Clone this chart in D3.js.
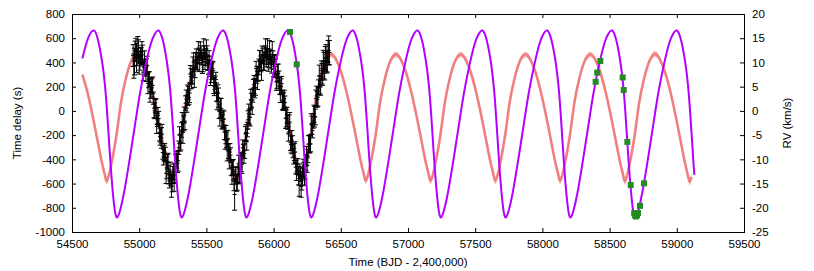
<!DOCTYPE html>
<html>
<head>
<meta charset="utf-8">
<script src="https://cdn.jsdelivr.net/npm/d3@7.9.0/dist/d3.min.js"></script>
<style>
  body { margin: 0; background: #fff; }
  svg { display: block; font-family: "Liberation Sans", Arial, sans-serif; }
</style>
</head>
<body>
<svg id="chart"></svg>
<script>
const width = 814;
const height = 271;
const margin = { top: 14, right: 70, bottom: 39, left: 72 };

// axis ticks
const xTicks = [54500, 55000, 55500, 56000, 56500, 57000, 57500, 58000, 58500, 59000, 59500];
const delayTicks = [-1000, -800, -600, -400, -200, 0, 200, 400, 600, 800];
const rvTicks = [-25, -20, -15, -10, -5, 0, 5, 10, 15, 20];

// measured time delays (black, with error bars), first set of segments
const tdTimes = [
  54955, 54965, 54975, 54985, 54995, 55005, 55015, 55025, 55035, 55045,
  55055, 55065, 55075, 55085, 55095, 55105, 55115, 55125, 55135, 55145,
  55155, 55165, 55175, 55185, 55195, 55205, 55215, 55225, 55235, 55245,
  55255, 55265, 55275, 55285, 55295, 55305, 55315, 55325, 55335, 55345,
  55355, 55365, 55375, 55385, 55395, 55405, 55415, 55425, 55435, 55445,
  55455, 55465, 55475, 55485, 55495, 55505, 55515, 55525, 55535, 55545,
  55555, 55565, 55575, 55585, 55595, 55605, 55615, 55625, 55635, 55645,
  55655, 55665, 55675, 55685, 55695, 55705, 55715, 55725, 55735, 55745,
  55755, 55765, 55775, 55785, 55795, 55805, 55815, 55825, 55835, 55845,
  55855, 55865, 55875, 55885, 55895, 55905, 55915, 55925, 55935, 55945,
  55955, 55965, 55975, 55985, 55995, 56005, 56015, 56025, 56035, 56045,
  56055, 56065, 56075, 56085, 56095, 56105, 56115, 56125, 56135, 56145,
  56155, 56165, 56175, 56185, 56195, 56205, 56215, 56225, 56235, 56245,
  56255, 56265, 56275, 56285, 56295, 56305, 56315, 56325, 56335, 56345,
  56355, 56365, 56375, 56385, 56395, 56405, 56415
];
const tdValues = [
  457, 407, 515, 446, 492, 396, 446, 463, 361, 356,
  375, 227, 264, 174, 190, 105, 1, 21, -74, -64,
  -213, -223, -344, -349, -360, -470, -425, -576, -559, -598,
  -504, -513, -396, -434, -304, -263, -158, -178, -33, 64,
  59, 148, 148, 284, 287, 403, 345, 427, 389, 454,
  499, 440, 403, 482, 440, 462, 362, 382, 318, 350,
  208, 233, 155, 145, -3, 22, -78, -63, -176, -196,
  -323, -333, -340, -470, -467, -579, -525, -594, -525, -517,
  -403, -441, -334, -324, -179, -154, -24, -55, 85, 127,
  217, 194, 298, 305, 415, 388, 465, 390, 477, 438,
  515, 424, 450, 382, 441, 366, 364, 246, 311, 207,
  205, 90, 83, 68, -62, -92, -108, -263, -242, -327,
  -340, -465, -458, -536, -498, -623, -547, -490, -504, -373,
  -372, -273, -273, -118, -83, -48, 102, 96, 196, 215,
  333, 281, 374, 436, 397, 492, 481
];
const tdErrors = [
  90, 110, 85, 70, 95, 60, 75, 80, 65, 70,
  55, 85, 60, 70, 75, 50, 65, 80, 55, 60,
  70, 85, 55, 65, 60, 90, 75, 60, 55, 70,
  65, 80, 60, 75, 55, 70, 60, 90, 65, 60,
  70, 55, 80, 65, 60, 75, 70, 85, 60, 65,
  70, 60, 80, 55, 65, 75, 60, 70, 85, 60,
  65, 55, 75, 70, 60, 80, 65, 70, 60, 75,
  90, 60, 70, 65, 55, 80, 60, 70, 65, 85,
  60, 75, 55, 70, 65, 60, 80, 70, 60, 55,
  75, 65, 70, 60, 85, 65, 70, 55, 60, 75,
  80, 65, 60, 70, 55, 90, 65, 60, 75, 70,
  60, 80, 65, 55, 70, 60, 75, 65, 80, 60,
  70, 55, 65, 75, 60, 90, 70, 65, 60, 80,
  55, 70, 65, 75, 60, 85, 70, 65, 60, 75,
  80, 70, 110, 95, 85, 90, 100
];

// second set of segments, in between the first
const tdTimesB = [
  54960, 54970, 54980, 54990, 55000, 55010, 55020, 55030, 55040, 55050,
  55060, 55070, 55080, 55090, 55100, 55110, 55120, 55130, 55140, 55150,
  55160, 55170, 55180, 55190, 55200, 55210, 55220, 55230, 55240, 55250,
  55260, 55270, 55280, 55290, 55300, 55310, 55320, 55330, 55340, 55350,
  55360, 55370, 55380, 55390, 55400, 55410, 55420, 55430, 55440, 55450,
  55460, 55470, 55480, 55490, 55500, 55510, 55520, 55530, 55540, 55550,
  55560, 55570, 55580, 55590, 55600, 55610, 55620, 55630, 55640, 55650,
  55660, 55670, 55680, 55690, 55700, 55710, 55720, 55730, 55740, 55750,
  55760, 55770, 55780, 55790, 55800, 55810, 55820, 55830, 55840, 55850,
  55860, 55870, 55880, 55890, 55900, 55910, 55920, 55930, 55940, 55950,
  55960, 55970, 55980, 55990, 56000, 56010, 56020, 56030, 56040, 56050,
  56060, 56070, 56080, 56090, 56100, 56110, 56120, 56130, 56140, 56150,
  56160, 56170, 56180, 56190, 56200, 56210, 56220, 56230, 56240, 56250,
  56260, 56270, 56280, 56290, 56300, 56310, 56320, 56330, 56340, 56350,
  56360, 56370, 56380, 56390, 56400, 56410
];
const tdValuesB = [
  370, 496, 438, 539, 399, 459, 487, 320, 406, 303,
  376, 256, 157, 215, 210, 23, 39, -112, -37, -179,
  -198, -191, -382, -340, -515, -420, -528, -488, -623, -529,
  -599, -432, -413, -412, -201, -258, -93, -103, -85, 97,
  129, 111, 304, 248, 370, 274, 421, 413, 507, 399,
  477, 384, 510, 406, 516, 395, 417, 285, 324, 334,
  201, 259, 80, 109, -60, 19, -91, -72, -241, -240,
  -231, -399, -365, -531, -486, -690, -535, -590, -446, -538,
  -425, -305, -352, -189, -254, -74, -50, 93, 31, 190,
  188, 349, 252, 363, 427, 337, 458, 411, 525, 449,
  397, 500, 406, 497, 346, 380, 240, 326, 249, 134,
  225, 79, 101, -60, -35, -190, -93, -278, -280, -374,
  -340, -504, -460, -615, -521, -578, -469, -532, -426, -448,
  -275, -273, -108, -163, -23, -50, 124, 114, 288, 199,
  307, 405, 335, 437, 410, 499
];
const tdErrorsB = [
  100, 80, 120, 75, 95, 65, 85, 70, 90, 60,
  75, 65, 85, 60, 70, 80, 55, 75, 65, 70,
  60, 80, 65, 70, 85, 60, 75, 65, 90, 70,
  65, 75, 60, 85, 70, 65, 80, 60, 70, 75,
  85, 60, 70, 65, 75, 80, 60, 70, 65, 75,
  60, 75, 85, 65, 70, 60, 80, 75, 65, 70,
  75, 60, 70, 80, 65, 85, 60, 70, 75, 65,
  70, 80, 60, 75, 85, 130, 70, 65, 80, 60,
  75, 65, 80, 60, 70, 75, 65, 85, 60, 70,
  80, 60, 75, 65, 70, 85, 60, 75, 70, 65,
  70, 80, 60, 75, 65, 85, 70, 60, 80, 65,
  60, 75, 70, 85, 65, 60, 80, 70, 75, 65,
  85, 70, 65, 90, 60, 75, 70, 80, 65, 60,
  70, 75, 85, 60, 70, 65, 80, 75, 90, 70,
  85, 95, 80, 110, 90, 120
];

// time-delay model (salmon band)
const tdModelTimes = [
  54577, 54616, 54656, 54696, 54726, 54746,
  54758, 54778, 54803, 54833, 54863, 54898, 54938, 54980, 55018, 55058, 55098, 55138, 55178, 55208, 55228,
  55240, 55260, 55285, 55315, 55345, 55380, 55420, 55462, 55500, 55540, 55580, 55620, 55660, 55690, 55710,
  55722, 55742, 55767, 55797, 55827, 55862, 55902, 55944, 55982, 56022, 56062, 56102, 56142, 56172, 56192,
  56204, 56224, 56249, 56279, 56309, 56344, 56384, 56426, 56464, 56504, 56544, 56584, 56624, 56654, 56674,
  56686, 56706, 56731, 56761, 56791, 56826, 56866, 56908, 56946, 56986, 57026, 57066, 57106, 57136, 57156,
  57168, 57188, 57213, 57243, 57273, 57308, 57348, 57390, 57428, 57468, 57508, 57548, 57588, 57618, 57638,
  57650, 57670, 57695, 57725, 57755, 57790, 57830, 57872, 57910, 57950, 57990, 58030, 58070, 58100, 58120,
  58132, 58152, 58177, 58207, 58237, 58272, 58312, 58354, 58392, 58432, 58472, 58512, 58552, 58582, 58602,
  58614, 58634, 58659, 58689, 58719, 58754, 58794, 58836, 58874, 58914, 58954, 58994, 59034, 59064, 59084,
  59096, 59110
];
const tdModelValues = [
  300, 150, -55, -280, -445, -535,
  -580, -515, -380, -185, 60, 255, 405, 465, 425, 315, 150, -55, -280, -445, -535,
  -575, -515, -380, -185, 60, 255, 405, 465, 425, 315, 150, -55, -280, -445, -535,
  -575, -515, -380, -185, 60, 255, 405, 465, 425, 315, 150, -55, -280, -445, -535,
  -575, -515, -380, -185, 60, 255, 405, 465, 425, 315, 150, -55, -280, -445, -535,
  -575, -515, -380, -185, 60, 255, 405, 465, 425, 315, 150, -55, -280, -445, -535,
  -575, -515, -380, -185, 60, 255, 405, 465, 425, 315, 150, -55, -280, -445, -535,
  -575, -515, -380, -185, 60, 255, 405, 465, 425, 315, 150, -55, -280, -445, -535,
  -575, -515, -380, -185, 60, 255, 405, 465, 425, 315, 150, -55, -280, -445, -535,
  -580, -515, -380, -185, 60, 255, 405, 470, 425, 315, 150, -55, -280, -445, -540,
  -585, -545
];

// RV model (violet line)
const rvModelTimes = [
  54577, 54620,
  54662, 54692, 54722, 54752, 54782, 54807, 54830, 54857, 54887, 54927, 54967, 55007, 55047, 55087, 55117,
  55144, 55174, 55204, 55234, 55264, 55289, 55312, 55339, 55369, 55409, 55449, 55489, 55529, 55569, 55599,
  55626, 55656, 55686, 55716, 55746, 55771, 55794, 55821, 55851, 55891, 55931, 55971, 56011, 56051, 56081,
  56108, 56138, 56168, 56198, 56228, 56253, 56276, 56303, 56333, 56373, 56413, 56453, 56493, 56533, 56563,
  56590, 56620, 56650, 56680, 56710, 56735, 56758, 56785, 56815, 56855, 56895, 56935, 56975, 57015, 57045,
  57072, 57102, 57132, 57162, 57192, 57217, 57240, 57267, 57297, 57337, 57377, 57417, 57457, 57497, 57527,
  57554, 57584, 57614, 57644, 57674, 57699, 57722, 57749, 57779, 57819, 57859, 57899, 57939, 57979, 58009,
  58036, 58066, 58096, 58126, 58156, 58181, 58204, 58231, 58261, 58301, 58341, 58381, 58421, 58461, 58491,
  58518, 58548, 58578, 58608, 58638, 58663, 58686, 58713, 58743, 58783, 58823, 58863, 58903, 58943, 58973,
  59000, 59030, 59060, 59090, 59120, 59131
];
const rvModelValues = [
  10.8, 15.0,
  16.6, 14.8, 10.5, 3.2, -9.0, -17.8, -21.9, -20.6, -16.9, -10.3, -3.2, 3.8, 9.4, 13.9, 15.9,
  16.6, 14.8, 10.5, 3.2, -9.0, -17.8, -21.9, -20.6, -16.9, -10.3, -3.2, 3.8, 9.4, 13.9, 15.9,
  16.6, 14.8, 10.5, 3.2, -9.0, -17.8, -21.9, -20.6, -16.9, -10.3, -3.2, 3.8, 9.4, 13.9, 15.9,
  16.6, 14.8, 10.5, 3.2, -9.0, -17.8, -21.9, -20.6, -16.9, -10.3, -3.2, 3.8, 9.4, 13.9, 15.9,
  16.6, 14.8, 10.5, 3.2, -9.0, -17.8, -21.9, -20.6, -16.9, -10.3, -3.2, 3.8, 9.4, 13.9, 15.9,
  16.6, 14.8, 10.5, 3.2, -9.0, -17.8, -21.9, -20.6, -16.9, -10.3, -3.2, 3.8, 9.4, 13.9, 15.9,
  16.6, 14.8, 10.5, 3.2, -9.0, -17.8, -21.9, -20.6, -16.9, -10.3, -3.2, 3.8, 9.4, 13.9, 15.9,
  16.6, 14.8, 10.5, 3.2, -9.0, -17.8, -21.9, -20.6, -16.9, -10.3, -3.2, 3.8, 9.4, 13.9, 15.9,
  16.6, 14.8, 10.5, 3.2, -9.0, -17.8, -21.9, -20.6, -16.9, -10.3, -3.2, 3.8, 9.4, 13.9, 15.9,
  16.6, 14.8, 10.5, 3.2, -9.0, -13.2
];

// measured RVs (green squares)
const rvTimes = [56122, 56172, 58396, 58408, 58431, 58597, 58605, 58632, 58657,
  58683, 58690, 58697, 58704, 58711, 58726, 58756];
const rvValues = [16.3, 9.6, 6.0, 7.9, 10.3, 6.9, 4.3, -6.4, -15.3,
  -21.1, -21.6, -21.8, -21.5, -21.1, -19.6, -14.95];

const svg = d3.select("#chart")
  .attr("width", width)
  .attr("height", height);

svg.append("rect").attr("width", width).attr("height", height).attr("fill", "#fff");

const x = d3.scaleLinear()
  .domain([54500, 59500])
  .range([margin.left, width - margin.right]);
const yDelay = d3.scaleLinear()
  .domain([-1000, 800])
  .range([height - margin.bottom, margin.top]);
const yRV = d3.scaleLinear()
  .domain([-25, 20])
  .range([height - margin.bottom, margin.top]);

const x0 = margin.left, x1 = width - margin.right;
const y0 = margin.top, y1 = height - margin.bottom;
const fmt = d => String(d);

// salmon model band
const tdModel = tdModelTimes.map((t, i) => ({ t, v: tdModelValues[i] }));
const bandFrac = 0.05;
svg.append("path")
  .datum(tdModel)
  .attr("fill", "#f08080")
  .attr("fill-opacity", 0.6)
  .attr("d", d3.area()
    .curve(d3.curveNatural)
    .x(d => x(d.t))
    .y0(d => yDelay(d.v - bandFrac * Math.abs(d.v)))
    .y1(d => yDelay(d.v + bandFrac * Math.abs(d.v))));
svg.append("path")
  .datum(tdModel)
  .attr("fill", "none")
  .attr("stroke", "#f08080")
  .attr("stroke-width", 2.6)
  .attr("d", d3.line().curve(d3.curveNatural).x(d => x(d.t)).y(d => yDelay(d.v)));

// time delay measurements
const td = tdTimes.map((t, i) => ({ t, v: tdValues[i], e: tdErrors[i] }))
  .concat(tdTimesB.map((t, i) => ({ t, v: tdValuesB[i], e: tdErrorsB[i] })));
svg.append("g")
  .attr("stroke", "#000")
  .attr("stroke-width", 1)
  .attr("fill", "none")
  .selectAll("path")
  .data(td)
  .join("path")
  .attr("d", d => {
    const px = x(d.t), lo = yDelay(d.v - d.e), hi = yDelay(d.v + d.e), py = yDelay(d.v);
    return `M${px - 2.5},${hi}H${px + 2.5}M${px},${hi}V${lo}M${px - 2.5},${lo}H${px + 2.5}M${px - 2},${py}H${px + 2}`;
  });

// RV model line
const rvModel = rvModelTimes.map((t, i) => ({ t, v: rvModelValues[i] }));
svg.append("path")
  .datum(rvModel)
  .attr("fill", "none")
  .attr("stroke", "#b400ff")
  .attr("stroke-width", 2)
  .attr("d", d3.line().curve(d3.curveNatural).x(d => x(d.t)).y(d => yRV(d.v)));

// RV measurements
svg.append("g")
  .selectAll("rect")
  .data(rvTimes.map((t, i) => ({ t, v: rvValues[i] })))
  .join("rect")
  .attr("x", d => x(d.t) - 3)
  .attr("y", d => yRV(d.v) - 3)
  .attr("width", 6)
  .attr("height", 6)
  .attr("fill", "#228b22");

// axes
function styleAxis(g) {
  g.select(".domain").remove();
  g.selectAll("text").attr("fill", "#000");
  g.selectAll(".tick line").attr("stroke", "#000");
  g.attr("font-size", 11.5).attr("font-family", '"Liberation Sans", Arial, sans-serif');
}

svg.append("g")
  .attr("transform", `translate(0,${y1})`)
  .call(d3.axisBottom(x).tickValues(xTicks).tickFormat(fmt).tickSize(-4).tickPadding(8))
  .call(styleAxis);
svg.append("g")
  .attr("transform", `translate(0,${y0})`)
  .call(d3.axisTop(x).tickValues(xTicks).tickFormat("").tickSize(-4))
  .call(styleAxis);
svg.append("g")
  .attr("transform", `translate(${x0},0)`)
  .call(d3.axisLeft(yDelay).tickValues(delayTicks).tickFormat(fmt).tickSize(-4).tickPadding(7))
  .call(styleAxis);
svg.append("g")
  .attr("transform", `translate(${x1},0)`)
  .call(d3.axisRight(yRV).tickValues(rvTicks).tickFormat(fmt).tickSize(-4).tickPadding(8))
  .call(styleAxis);

svg.append("rect")
  .attr("x", x0 + 0.5)
  .attr("y", y0 + 0.5)
  .attr("width", x1 - x0)
  .attr("height", y1 - y0)
  .attr("fill", "none")
  .attr("stroke", "#000")
  .attr("stroke-width", 1);

// axis titles
svg.append("text")
  .attr("transform", `translate(17,${(y0 + y1) / 2}) rotate(-90)`)
  .attr("text-anchor", "middle")
  .attr("dominant-baseline", "central")
  .attr("font-size", 11.5)
  .text("Time delay (s)");
svg.append("text")
  .attr("transform", `translate(787,${(y0 + y1) / 2}) rotate(-90)`)
  .attr("text-anchor", "middle")
  .attr("dominant-baseline", "central")
  .attr("font-size", 11.5)
  .text("RV (km/s)");
svg.append("text")
  .attr("x", (x0 + x1) / 2)
  .attr("y", 262)
  .attr("text-anchor", "middle")
  .attr("dominant-baseline", "central")
  .attr("font-size", 11.5)
  .text("Time (BJD - 2,400,000)");
</script>
</body>
</html>
